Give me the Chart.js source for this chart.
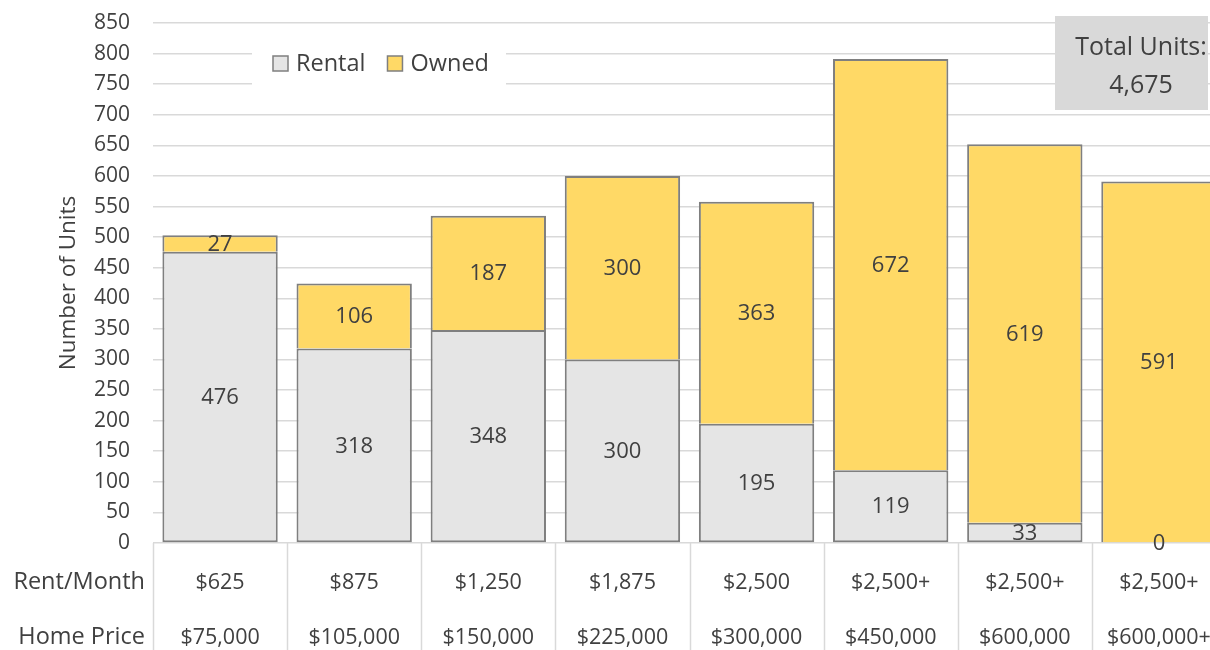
<!DOCTYPE html>
<html>
<head>
<meta charset="utf-8">
<script src="https://cdn.jsdelivr.net/npm/chart.js@4"></script>
<style>
    html, body { margin: 0; padding: 0; background: #fff; overflow: hidden; }
    #wrap { width: 1226px; height: 650px; }
</style>
</head>
<body>
<div id="wrap"><canvas id="chart"></canvas></div>
<script>
const rentPerMonth = ['$625', '$875', '$1,250', '$1,875', '$2,500', '$2,500+', '$2,500+', '$2,500+'];
const homePrice = ['$75,000', '$105,000', '$150,000', '$225,000', '$300,000', '$450,000', '$600,000', '$600,000+'];
const rowHeaders = ['Rent/Month', 'Home Price'];
const rentalUnits = [476, 318, 348, 300, 195, 119, 33, 0];
const ownedUnits = [27, 106, 187, 300, 363, 672, 619, 591];
const totalLines = ['Total Units:', '4,675'];

const FONT = "'Open Sans', 'Noto Sans', sans-serif";
const TEXT = '#404040';

// draws value labels, table lines, row headers, legend and the total box
const extrasPlugin = {
    id: 'extras',
    afterDatasetsDraw(chart) {
        const ctx = chart.ctx;
        const area = chart.chartArea;
        const x = chart.scales.x;
        ctx.save();

        // value labels centered in each segment
        ctx.font = `22px ${FONT}`;
        ctx.fillStyle = TEXT;
        ctx.textAlign = 'center';
        ctx.textBaseline = 'middle';
        chart.data.datasets.forEach((ds, i) => {
            chart.getDatasetMeta(i).data.forEach((el, j) => {
                ctx.fillText(String(ds.data[j]), el.x, (el.y + el.base) / 2 + 1);
            });
        });

        // table separators below the axis
        const step = x.getPixelForValue(1) - x.getPixelForValue(0);
        ctx.strokeStyle = '#d9d9d9';
        ctx.lineWidth = 1.5;
        for (let i = 0; i <= chart.data.labels.length; i++) {
            const px = Math.round(x.getPixelForValue(0) - step / 2 + i * step) + 0.5;
            ctx.beginPath();
            ctx.moveTo(px, area.bottom);
            ctx.lineTo(px, chart.height);
            ctx.stroke();
        }

        // row headers
        ctx.textAlign = 'right';
        ctx.font = `23.5px ${FONT}`;
        ctx.fillText(rowHeaders[0], area.left - 8, area.bottom + 39);
        ctx.fillText(rowHeaders[1], area.left - 8, area.bottom + 94);

        // legend
        const lx = area.left + 99, ly = area.top + 19;
        ctx.fillStyle = '#fff';
        ctx.fillRect(lx, ly, 254, 44);
        ctx.font = `23.5px ${FONT}`;
        ctx.textAlign = 'left';
        let cx = lx + 21;
        chart.data.datasets.forEach(ds => {
            ctx.fillStyle = ds.backgroundColor;
            ctx.fillRect(cx, ly + 14, 15, 15);
            ctx.strokeStyle = ds.borderColor;
            ctx.lineWidth = 1.5;
            ctx.strokeRect(cx, ly + 14, 15, 15);
            ctx.fillStyle = TEXT;
            ctx.fillText(ds.label, cx + 23, ly + 22);
            cx += 23 + ctx.measureText(ds.label).width + 22;
        });

        // total units box
        ctx.fillStyle = '#d9d9d9';
        ctx.fillRect(1055, 16, 153, 94);
        ctx.fillStyle = TEXT;
        ctx.textAlign = 'center';
        ctx.font = `25px ${FONT}`;
        ctx.fillText(totalLines[0], 1141, 48);
        ctx.fillText(totalLines[1], 1141, 86);

        ctx.restore();
    }
};

new Chart(document.getElementById('chart'), {
    type: 'bar',
    data: {
        labels: rentPerMonth.map((r, i) => [r, homePrice[i]]),
        datasets: [{
            label: 'Rental',
            data: rentalUnits,
            backgroundColor: '#e5e5e5',
            borderColor: '#7f7f7f',
            borderWidth: 2,
            borderSkipped: false
        }, {
            label: 'Owned',
            data: ownedUnits,
            backgroundColor: '#ffd966',
            borderColor: '#7f7f7f',
            borderWidth: 2,
            borderSkipped: 'start'
        }]
    },
    options: {
        responsive: true,
        maintainAspectRatio: false,
        animation: false,
        layout: { padding: { top: 23, left: 55, right: 0, bottom: 0 } },
        datasets: {
            bar: { categoryPercentage: 1, barPercentage: 0.86 }
        },
        scales: {
            x: {
                stacked: true,
                grid: { display: false },
                border: { display: false },
                afterFit: s => { s.height = 107; },
                ticks: {
                    color: TEXT,
                    padding: 4,
                    font: { family: FONT, size: 21.5, lineHeight: 2.56 }
                }
            },
            y: {
                stacked: true,
                min: 0,
                max: 850,
                afterFit: s => { s.width = 98; },
                grid: { color: '#d9d9d9', lineWidth: 1.5, tickLength: 21, tickColor: 'rgba(0,0,0,0)' },
                border: { display: false },
                title: {
                    display: true,
                    text: 'Number of Units',
                    color: TEXT,
                    font: { family: FONT, size: 22.5 },
                    padding: { top: 0, bottom: 3 }
                },
                ticks: {
                    stepSize: 50,
                    color: TEXT,
                    padding: 2,
                    font: { family: FONT, size: 21 }
                }
            }
        },
        plugins: {
            legend: { display: false },
            tooltip: { enabled: false }
        }
    },
    plugins: [extrasPlugin]
});
</script>
</body>
</html>
